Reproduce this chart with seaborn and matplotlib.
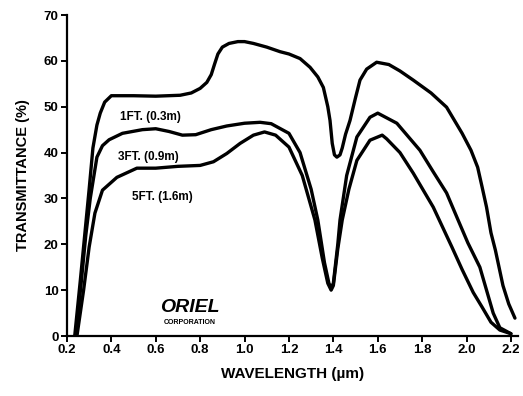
import numpy as np
import pandas as pd
import matplotlib
matplotlib.use('Agg')
import matplotlib.pyplot as plt
import seaborn as sns

# wavelength (um) / transmittance (%)
wl_1ft = [0.235, 0.26, 0.28, 0.30, 0.317, 0.335, 0.35, 0.37, 0.40, 0.50, 0.60, 0.71, 0.76, 0.80,
          0.83, 0.85, 0.865, 0.88, 0.90, 0.93, 0.97, 1.00, 1.04, 1.10, 1.16, 1.20, 1.25, 1.295,
          1.33, 1.355, 1.375, 1.385, 1.395, 1.405, 1.416, 1.43, 1.44, 1.455, 1.475, 1.50, 1.52,
          1.55, 1.595, 1.65, 1.70, 1.76, 1.84, 1.91, 1.98, 2.02, 2.05, 2.07, 2.09, 2.11, 2.13,
          2.164, 2.19, 2.218]
tr_1ft = [0, 12, 22, 32, 41, 46, 48.6, 51, 52.4, 52.4, 52.3, 52.5, 53, 54,
          55.3, 57, 59.3, 61.5, 63, 63.8, 64.2, 64.2, 63.8, 63, 62, 61.5, 60.5, 58.6,
          56.5, 54.2, 50, 47, 42, 39.5, 39, 39.5, 41, 44, 47, 52, 55.8,
          58.2, 59.7, 59.2, 57.8, 55.8, 53, 49.9, 44.2, 40.5, 36.8, 32.5, 28.1, 22.5, 18.7,
          11, 7, 3.9]

wl_3ft = [0.24, 0.265, 0.285, 0.305, 0.335, 0.36, 0.39, 0.45, 0.54, 0.60, 0.66, 0.72, 0.78,
          0.85, 0.92, 1.00, 1.07, 1.12, 1.20, 1.25, 1.30, 1.33, 1.36, 1.38, 1.39, 1.40, 1.42,
          1.43, 1.46, 1.506, 1.565, 1.60, 1.686, 1.79, 1.85, 1.91, 1.96, 2.006, 2.06, 2.09, 2.12,
          2.15, 2.20]
tr_3ft = [0, 12, 22, 30, 39, 41.5, 42.8, 44.2, 45, 45.2, 44.6, 43.8, 43.9,
          45, 45.8, 46.4, 46.6, 46.3, 44.2, 40, 32, 25.3, 16, 11.5, 10.5, 11.5, 20,
          25.3, 35, 43.4, 47.7, 48.6, 46.4, 40.5, 35.8, 31.2, 25.5, 20.3, 15, 10, 5,
          1.8, 0.5]

wl_5ft = [0.245, 0.275, 0.30, 0.326, 0.36, 0.425, 0.515, 0.60, 0.70, 0.80, 0.86, 0.92, 0.98,
          1.04, 1.09, 1.14, 1.20, 1.26, 1.317, 1.35, 1.375, 1.39, 1.40, 1.42, 1.44, 1.47, 1.506,
          1.565, 1.62, 1.64, 1.70, 1.76, 1.85, 1.934, 1.98, 2.03, 2.07, 2.11, 2.15, 2.20]
tr_5ft = [0, 10, 19.4, 26.8, 31.8, 34.6, 36.6, 36.6, 37, 37.2, 38, 39.8, 42,
          43.8, 44.5, 43.8, 41.2, 35, 25.3, 17, 11.5, 10, 11, 19, 25.3, 32, 38.3,
          42.7, 43.8, 43, 40, 35.5, 28.1, 19.4, 14.5, 9.5, 6.3, 3, 1.3, 0.5]

x_ticks = [0.2, 0.4, 0.6, 0.8, 1.0, 1.2, 1.4, 1.6, 1.8, 2.0, 2.2]
x_ticklabels = ['0.2', '0.4', '0.6', '0.8', '1.0', '1.2', '1.4', '1.6', '1.8', '2.0', '2.2']
y_ticks = [0, 10, 20, 30, 40, 50, 60, 70]

sns.set_style('ticks')
plt.rcParams['font.family'] = ['Liberation Sans', 'DejaVu Sans']
plt.rcParams['font.weight'] = 'bold'
plt.rcParams['text.color'] = 'black'
plt.rcParams['axes.labelcolor'] = 'black'
plt.rcParams['xtick.color'] = 'black'
plt.rcParams['ytick.color'] = 'black'
plt.rcParams['axes.edgecolor'] = 'black'

fig = plt.figure(figsize=(5.23, 3.96), dpi=100)
ax = fig.add_axes([0.128, 0.1515, 0.8617, 0.8106])

for wl, tr in [(wl_1ft, tr_1ft), (wl_3ft, tr_3ft), (wl_5ft, tr_5ft)]:
    df = pd.DataFrame({'wl': wl, 'tr': tr})
    sns.lineplot(data=df, x='wl', y='tr', color='black', linewidth=2.4,
                 estimator=None, sort=False, ax=ax,
                 solid_joinstyle='round', solid_capstyle='round')

ax.set_xlim(0.2, 2.23)
ax.set_ylim(0, 70)
ax.set_xticks(x_ticks)
ax.set_xticklabels(x_ticklabels)
ax.set_yticks(y_ticks)
sns.despine(ax=ax)
for s in ['left', 'bottom']:
    ax.spines[s].set_linewidth(1.6)
ax.tick_params(axis='both', direction='out', length=4, width=1.4, labelsize=9.5, pad=2,
               colors='black')
for lbl in ax.get_xticklabels() + ax.get_yticklabels():
    lbl.set_fontweight('bold')

ax.set_xlabel('WAVELENGTH (\u00b5m)', fontsize=11, fontweight='bold', labelpad=8)
ax.set_ylabel('TRANSMITTANCE (%)', fontsize=10.5, fontweight='bold', labelpad=10)

# curve labels
ax.text(0.44, 47.7, '1FT. (0.3m)', fontsize=8.5, fontweight='bold', va='center')
ax.text(0.43, 39.0, '3FT. (0.9m)', fontsize=8.5, fontweight='bold', va='center')
ax.text(0.495, 30.3, '5FT. (1.6m)', fontsize=8.5, fontweight='bold', va='center')

# logo
ax.text(0.755, 6.3, 'ORIEL', fontsize=14, fontweight='heavy', fontstyle='italic',
        ha='center', va='center')
ax.text(0.755, 2.9, 'CORPORATION', fontsize=5, fontweight='bold', ha='center', va='center')

plt.savefig('out.png', dpi=100)
